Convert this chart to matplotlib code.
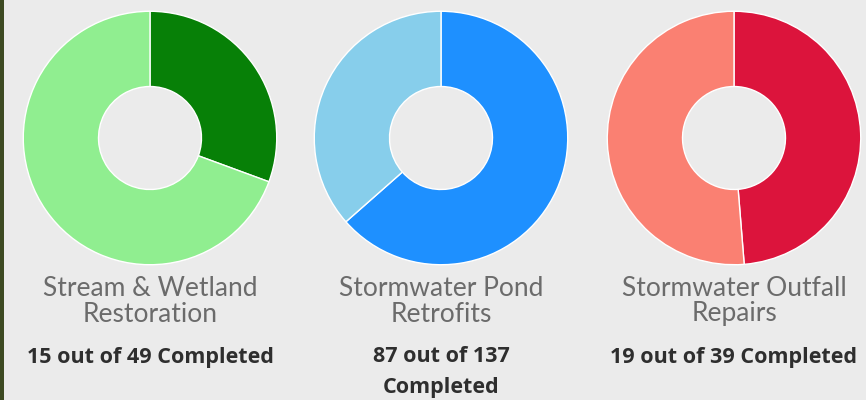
import matplotlib.pyplot as plt
from matplotlib.patches import Rectangle

# project progress
titles = ['Stream & Wetland\nRestoration', 'Stormwater Pond\nRetrofits', 'Stormwater Outfall\nRepairs']
completed = [15, 87, 19]
totals = [49, 137, 39]
dark_colors = ['#078007', '#1e90ff', '#dc143c']
light_colors = ['#90ee90', '#87ceeb', '#fa8072']
labels = ['15 out of 49 Completed', '87 out of 137\nCompleted', '19 out of 39 Completed']

W, H = 866, 400
fig = plt.figure(figsize=(W / 100, H / 100), dpi=100)
fig.patch.set_facecolor('#ebebeb')

# strip of photo on the left edge
fig.patches.append(Rectangle((0, 0), 4 / W, 1, transform=fig.transFigure,
                             facecolor='#3d4a22', edgecolor='none'))

centers_x = [150, 441, 734]
cy = 138
r = 128
hole = 52

for i in range(3):
    cx = centers_x[i]
    ax = fig.add_axes([(cx - r) / W, (H - cy - r) / H, 2 * r / W, 2 * r / H])
    ax.pie([completed[i], totals[i] - completed[i]],
           colors=[dark_colors[i], light_colors[i]],
           startangle=90, counterclock=False, radius=1,
           wedgeprops=dict(width=1 - hole / r, edgecolor='white', linewidth=1))
    ax.set_xlim(-1.01, 1.01)
    ax.set_ylim(-1.01, 1.01)
    ax.set_aspect('auto')
    ax.axis('off')

    for k, line in enumerate(titles[i].split('\n')):
        fig.text(cx / W, (H - 288 - 26 * k) / H, line, ha='center', va='center',
                 fontsize=19, color='#6b6b6b', family='Lato')
    for k, line in enumerate(labels[i].split('\n')):
        fig.text(cx / W, (H - 357 - 30 * k) / H, line, ha='center', va='center',
                 fontsize=15.5, color='#2e2e2e', family='Open Sans', fontweight='bold')

fig.savefig('out.png', dpi=100, facecolor=fig.get_facecolor())
